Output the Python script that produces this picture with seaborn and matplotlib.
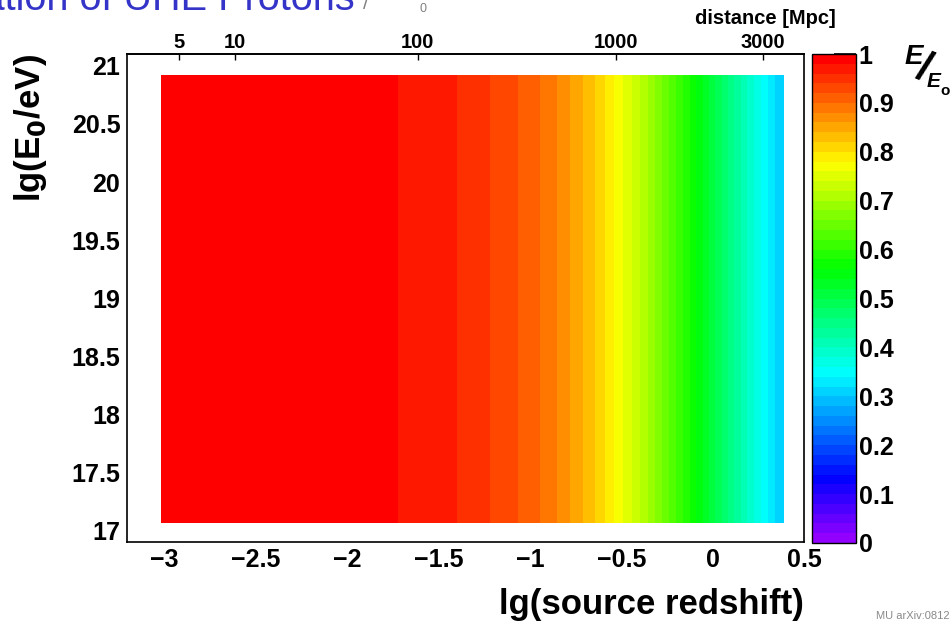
import colorsys
import matplotlib
matplotlib.use("Agg")
import matplotlib.pyplot as plt
from matplotlib.colors import ListedColormap
from matplotlib.ticker import MultipleLocator, FuncFormatter
import pandas as pd
import seaborn as sns

# colour bands along lg(z), edges
band_edges = [-3.016, -1.720, -1.400, -1.218, -1.064, -0.944, -0.850, -0.778,
              -0.708, -0.646, -0.590, -0.539, -0.490, -0.442, -0.398, -0.355,
              -0.315, -0.276, -0.238, -0.200, -0.163, -0.127, -0.091, -0.055,
              -0.020, 0.013, 0.048, 0.083, 0.118, 0.153, 0.189, 0.225,
              0.263, 0.301, 0.340, 0.389]
# E/E0 in each band (middle of the contour level)
band_values = [0.99, 0.97, 0.95, 0.93, 0.91, 0.89, 0.87, 0.85, 0.83, 0.81,
               0.79, 0.77, 0.75, 0.73, 0.71, 0.69, 0.67, 0.65, 0.63, 0.61,
               0.59, 0.57, 0.55, 0.53, 0.51, 0.49, 0.47, 0.45, 0.43, 0.41,
               0.39, 0.37, 0.35, 0.33, 0.31]
energy_edges = [17.06, 20.92]

# top axis: distance [Mpc] and where it sits in lg(z)
dist_labels = ["5", "10", "100", "1000", "3000"]
dist_pos = [-2.916, -2.613, -1.613, -0.531, 0.272]

cbar_ticks = [0, 0.1, 0.2, 0.3, 0.4, 0.5, 0.6, 0.7, 0.8, 0.9, 1]
cbar_labels = ["0", "0.1", "0.2", "0.3", "0.4", "0.5", "0.6", "0.7", "0.8", "0.9", "1"]


def root_palette():
    """ROOT 'pretty' palette: 49 HLS hues violet->red plus pure red."""
    cols = []
    for i in range(49):
        hue = 280 - (i + 1) * 280 / 50
        cols.append(colorsys.hls_to_rgb(hue / 360, 0.5, 1))
    cols.append((1, 0, 0))
    return ListedColormap(cols)


def short_num(v, pos):
    # 21 instead of 21.0, long minus like ROOT
    return f"{v:g}".replace("-", "\u2212")


df = pd.DataFrame({
    "lgz": [(a + b) / 2 for a, b in zip(band_edges[:-1], band_edges[1:])],
    "lgE": [(energy_edges[0] + energy_edges[1]) / 2] * len(band_values),
    "ratio": band_values,
})

sns.set_theme(style="white")
plt.rcParams["font.family"] = ["Liberation Sans", "DejaVu Sans"]
plt.rcParams["font.weight"] = "bold"
plt.rcParams["axes.labelweight"] = "bold"
plt.rcParams["mathtext.default"] = "bf"
for key in ["text.color", "axes.labelcolor", "xtick.color", "ytick.color", "axes.edgecolor"]:
    plt.rcParams[key] = "black"

W, H = 953, 623
fig = plt.figure(figsize=(W / 100, H / 100), dpi=100)
ax = fig.add_axes([127.3 / W, 1 - 542 / H, 677 / W, 487.7 / H])
cax = fig.add_axes([812 / W, 1 - 543 / H, 44 / W, 489 / H])

sns.histplot(data=df, x="lgz", y="lgE", weights="ratio",
             bins=(band_edges, energy_edges), cmap=root_palette(),
             vmin=0, vmax=1, thresh=None, ax=ax, cbar=True, cbar_ax=cax)

ax.set_xlim(-3.2, 0.5)
ax.set_ylim(16.9, 21.1)
ax.xaxis.set_major_locator(MultipleLocator(0.5))
ax.xaxis.set_minor_locator(MultipleLocator(0.1))
ax.yaxis.set_major_locator(MultipleLocator(0.5))
ax.yaxis.set_minor_locator(MultipleLocator(0.1))
ax.xaxis.set_major_formatter(FuncFormatter(short_num))
ax.yaxis.set_major_formatter(FuncFormatter(short_num))
ax.tick_params(axis="x", which="major", direction="in", length=10.5, width=1.2,
               labelsize=18, pad=4, top=False)
ax.tick_params(axis="x", which="minor", direction="in", length=5.3, width=1.0, top=False)
ax.tick_params(axis="y", which="major", direction="in", length=14.6, width=1.2,
               labelsize=18, pad=5, right=False)
ax.tick_params(axis="y", which="minor", direction="in", length=7.3, width=1.0, right=False)
for s in ax.spines.values():
    s.set_linewidth(1.2)
    s.set_color("black")

ax.set_xlabel("lg(source redshift)", fontsize=25, fontweight="bold", loc="right", labelpad=12)
ax.set_ylabel(r"lg(E$_{0}$/eV)", fontsize=25, fontweight="bold", loc="top", labelpad=16)

# distance axis on top
top = ax.secondary_xaxis("top")
top.set_xticks(dist_pos, labels=dist_labels)
top.tick_params(direction="in", length=4.5, width=1.0, labelsize=14.5, pad=2)
top.set_xlabel("distance [Mpc]", fontsize=14.5, fontweight="bold", loc="right")
top.xaxis.set_label_coords(1.046, 1.062, transform=ax.transAxes)

# colour scale
cbar = ax.collections[0].colorbar
cbar.set_ticks(cbar_ticks, labels=cbar_labels)
cax.tick_params(direction="in", length=16, width=1.2, labelsize=18, pad=2)
cbar.outline.set_linewidth(1.0)
cbar.outline.set_edgecolor("black")

# E/E0 written as a slanted fraction
fig.text(905 / W, 1 - 44 / H, "E", fontsize=20, style="italic", va="top")
fig.text(923 / W, 1 - 69 / H, "/", fontsize=30, ha="center", va="center", rotation=-22)
fig.text(927 / W, 1 - 72 / H, "E", fontsize=15, style="italic", va="top")
fig.text(940 / W, 1 - 84 / H, "o", fontsize=11, va="top")

# cut-off slide title and credit
fig.text(355 / W, 1 - 10 / H, "Propagation of UHE Protons", ha="right", va="baseline",
         fontsize=28.5, weight="normal", color="#3434c8")
fig.text(363 / W, 1 - 9 / H, "/", fontsize=14, weight="normal", color="#808080", va="baseline")
fig.text(420 / W, 1 - 12 / H, "0", fontsize=9, weight="normal", color="#808080", va="baseline")
fig.text(950 / W, 1 - 621 / H, "MU arXiv:0812", ha="right", va="bottom",
         fontsize=8, weight="normal", color="#8a8a8a")

fig.savefig("out.png", dpi=100)
